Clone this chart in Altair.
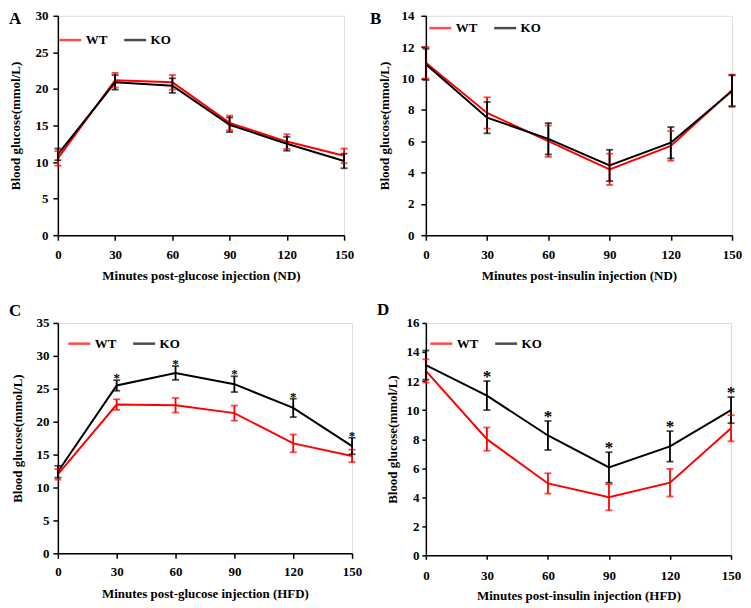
import altair as alt
import pandas as pd

minutes = [0, 30, 60, 90, 120, 150]
groups = ["WT", "KO"]

# Panel A: glucose tolerance, ND
a_wt = [10.5, 21.2, 20.9, 15.35, 12.8, 10.85]
a_wt_err = [1.0, 1.0, 1.0, 1.0, 1.0, 1.0]
a_ko = [11.05, 20.9, 20.45, 15.1, 12.5, 10.15]
a_ko_err = [0.8, 1.0, 1.0, 1.0, 0.95, 1.0]

# Panel B: insulin tolerance, ND
b_wt = [11.0, 7.8, 6.0, 4.2, 5.7, 9.25]
b_wt_err = [1.0, 1.0, 1.0, 1.0, 0.95, 1.0]
b_ko = [10.9, 7.5, 6.15, 4.45, 5.9, 9.2]
b_ko_err = [1.0, 1.0, 1.0, 1.0, 1.0, 1.0]

# Panel C: glucose tolerance, HFD
c_wt = [12.0, 22.6, 22.5, 21.3, 16.7, 14.8]
c_wt_err = [0.8, 0.8, 1.1, 1.15, 1.35, 0.95]
c_ko = [12.4, 25.5, 27.4, 25.7, 22.1, 16.3]
c_ko_err = [0.9, 0.8, 1.05, 1.2, 1.4, 1.25]
c_sig = ["", "*", "*", "*", "*", "*"]

# Panel D: insulin tolerance, HFD
d_wt = [12.7, 8.0, 4.95, 4.0, 5.0, 8.75]
d_wt_err = [0.8, 0.8, 0.7, 0.9, 0.95, 0.9]
d_ko = [13.1, 11.0, 8.25, 6.05, 7.5, 10.0]
d_ko_err = [1.0, 1.0, 1.0, 1.05, 1.05, 0.9]
d_sig = ["", "*", "*", "*", "*", "*"]

FONT = "Liberation Serif"
RED = "#FF0000"

AX = dict(domainColor="black", domainWidth=1.5, tickColor="black", tickWidth=1.5,
          labelFont=FONT, labelFontSize=13, labelFontWeight="bold", labelColor="black",
          titleFont=FONT, titleFontSize=13, titleFontWeight="bold", titleColor="black",
          grid=False, labelFlush=False, labelOverlap=False)


def make_df(wt, wt_err, ko, ko_err, sig=None):
    rows = []
    for g, m, e in (("WT", wt, wt_err), ("KO", ko, ko_err)):
        for i, t in enumerate(minutes):
            rows.append({
                "minute": t, "group": g, "mean": m[i],
                "lo": m[i] - e[i], "hi": m[i] + e[i],
                "sig": (sig[i] if (sig is not None and g == "KO") else ""),
            })
    return pd.DataFrame(rows)


def panel(df, letter, ymax, ystep, xtitle, w, h, p):
    xaxis = alt.Axis(values=minutes, title=xtitle, tickSize=p["xtick"],
                     labelPadding=p["xlp"], titlePadding=p["xtp"], **AX)
    yaxis = alt.Axis(values=list(range(0, ymax + 1, ystep)), title="Blood glucose(mmol/L)",
                     tickSize=p["ytick"], labelPadding=p["ylp"], titlePadding=p["ytp"], **AX)
    xs = alt.Scale(domain=[0, 150], nice=False, zero=False)
    ys = alt.Scale(domain=[0, ymax], nice=False)
    color = alt.Color(
        "group:N",
        scale=alt.Scale(domain=groups, range=[RED, "black"]),
        legend=alt.Legend(
            title=None, orient="none", legendX=p["lx"], legendY=p["ly"],
            direction="horizontal", symbolType="stroke", symbolSize=484,
            symbolStrokeWidth=2.5, labelFont=FONT, labelFontSize=13,
            labelFontWeight="bold", labelColor="black", labelOffset=3,
            columnPadding=11, padding=0,
        ),
    )
    X = lambda f: alt.X(f, scale=xs, axis=xaxis)
    Y = lambda f: alt.Y(f, scale=ys, axis=yaxis)
    base = alt.Chart(df)
    lines = base.mark_line(strokeWidth=2).encode(x=X("minute:Q"), y=Y("mean:Q"), color=color)
    rules = base.mark_rule(strokeWidth=1.8).encode(
        x=X("minute:Q"), y=Y("lo:Q"), y2="hi:Q", color=color)
    cap_lo = base.mark_tick(orient="horizontal", size=7, thickness=1.8).encode(
        x=X("minute:Q"), y=Y("lo:Q"), color=color)
    cap_hi = base.mark_tick(orient="horizontal", size=7, thickness=1.8).encode(
        x=X("minute:Q"), y=Y("hi:Q"), color=color)
    layers = [lines, rules, cap_lo, cap_hi]
    if p.get("star"):
        stars = base.transform_filter(alt.datum.sig != "").mark_text(
            baseline="alphabetic", dy=p["star_dy"], font=FONT, fontSize=p["star_fs"],
            fontWeight="bold", color="black",
        ).encode(x=X("minute:Q"), y=Y("hi:Q"), text="sig:N")
        layers.append(stars)
    lab = alt.Chart(pd.DataFrame({"letter": [letter]})).mark_text(
        align="left", baseline="middle", font=FONT, fontSize=17, fontWeight="bold", color="black",
    ).encode(x=alt.value(p["ldx"]), y=alt.value(p["ldy"]), text="letter:N")
    layers.append(lab)
    return alt.layer(*layers).properties(width=w, height=h)


pA = dict(xtick=5, xlp=8, xtp=8, ytick=5, ylp=5, ytp=12.5, lx=0, ly=11.6, ldx=-49, ldy=3)
pB = dict(xtick=5, xlp=8, xtp=8, ytick=5, ylp=7, ytp=9.5, lx=2, ly=-0.4, ldx=-56, ldy=3)
pC = dict(xtick=5, xlp=7, xtp=9, ytick=5, ylp=4, ytp=11.5, lx=9, ly=8, ldx=-49, ldy=-12.4,
          star=True, star_fs=13, star_dy=2)
pD = dict(xtick=4, xlp=10, xtp=7, ytick=4, ylp=3, ytp=6.5, lx=3, ly=8, ldx=-49, ldy=-12.9,
          star=True, star_fs=17, star_dy=1)

A = panel(make_df(a_wt, a_wt_err, a_ko, a_ko_err), "A", 30, 5,
          "Minutes post-glucose injection (ND)", 287, 220, pA)
B = panel(make_df(b_wt, b_wt_err, b_ko, b_ko_err), "B", 14, 2,
          "Minutes post-insulin injection (ND)", 307, 220, pB)
C = panel(make_df(c_wt, c_wt_err, c_ko, c_ko_err, c_sig), "C", 35, 5,
          "Minutes post-glucose injection (HFD)", 295, 231, pC)
D = panel(make_df(d_wt, d_wt_err, d_ko, d_ko_err, d_sig), "D", 16, 2,
          "Minutes post-insulin injection (HFD)", 306, 233, pD)

chart = alt.concat(
    A, B, C, D, columns=2, align="each", bounds="flush",
    spacing={"row": 88, "column": 74},
).resolve_scale(
    x="independent", y="independent", color="independent"
).resolve_legend(color="independent").resolve_axis(
    x="independent", y="independent"
).properties(padding=0).configure_view(stroke=None).configure(background="white")

chart.save("out.html", embed_options={"renderer": "svg", "actions": False})
